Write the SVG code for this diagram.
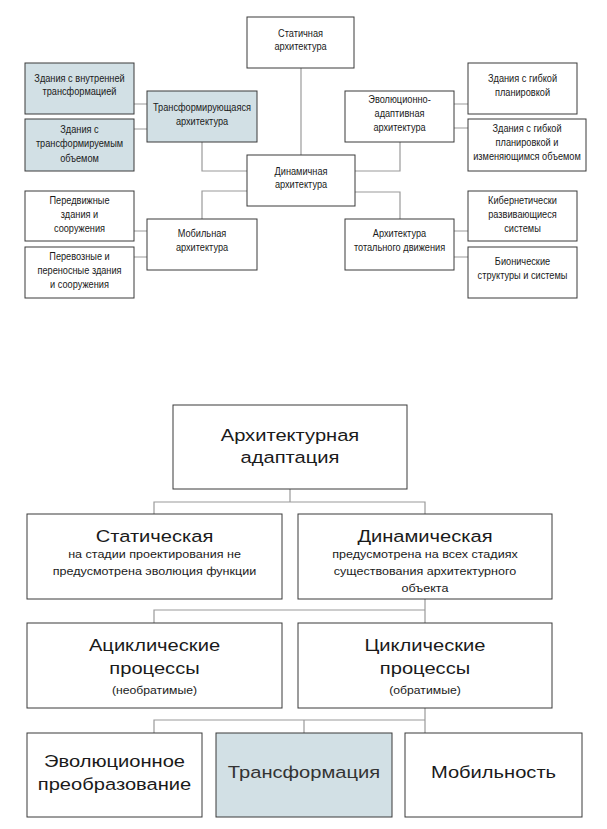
<svg xmlns="http://www.w3.org/2000/svg" width="607" height="829" viewBox="0 0 607 829">
<style>
.b{fill:#fff;stroke:#3a3a3a;stroke-width:1}
.hl{fill:#d2e0e5}
.c{fill:none;stroke:#9a9a9a;stroke-width:1.2}
text{font-family:"Liberation Sans",Arial,sans-serif;fill:#1a1a1a;text-anchor:middle}
.s text{font-size:11.5px}
.L{font-size:16.5px}
.m{font-size:10.3px}
.p{font-size:10px}
</style>
<rect width="607" height="829" fill="#fff"/>
<g id="connectors">
<path class="c" d="M301,68V155"/>
<path class="c" d="M202,142V171H247"/>
<path class="c" d="M202,219V191H247"/>
<path class="c" d="M355,171H400V142"/>
<path class="c" d="M355,192H400V219"/>
<path class="c" d="M134,104H147M134,129H147M134,231H147M134,257H147"/>
<path class="c" d="M454,104H468M454,128H468M454,231H468M454,257H468"/>
<path class="c" d="M290,489V502M154,514V502H425V514"/>
<path class="c" d="M425,599V610H154V623M425,610V623"/>
<path class="c" d="M425,708V733M425,720H154V733M304,720V733"/>
</g>
<g id="static-arch" class="s"><rect class="b" x="247" y="17" width="107" height="51"/><g transform="translate(300.5,0) scale(0.8,1)"><text x="0" y="37">Статичная</text><text x="0" y="50.5">архитектура</text></g></g>
<g id="internal-transf" class="s"><rect class="b hl" x="25" y="63" width="109" height="51"/><g transform="translate(79.5,0) scale(0.8,1)"><text x="0" y="82.5">Здания с внутренней</text><text x="0" y="95.5">трансформацией</text></g></g>
<g id="transf-volume" class="s"><rect class="b hl" x="25" y="119" width="109" height="52"/><g transform="translate(79.5,0) scale(0.8,1)"><text x="0" y="133">Здания с</text><text x="0" y="147.5">трансформируемым</text><text x="0" y="162">объемом</text></g></g>
<g id="transf-arch" class="s"><rect class="b hl" x="147" y="91" width="110" height="51"/><g transform="translate(202,0) scale(0.8,1)"><text x="0" y="111.5">Трансформирующаяся</text><text x="0" y="125">архитектура</text></g></g>
<g id="dynamic-arch" class="s"><rect class="b" x="247" y="155" width="108" height="51"/><g transform="translate(301,0) scale(0.8,1)"><text x="0" y="175">Динамичная</text><text x="0" y="188.5">архитектура</text></g></g>
<g id="movable" class="s"><rect class="b" x="25" y="191" width="109" height="50"/><g transform="translate(79.5,0) scale(0.8,1)"><text x="0" y="204">Передвижные</text><text x="0" y="218">здания и</text><text x="0" y="232">сооружения</text></g></g>
<g id="transportable" class="s"><rect class="b" x="25" y="247" width="109" height="51"/><g transform="translate(79.5,0) scale(0.8,1)"><text x="0" y="260">Перевозные и</text><text x="0" y="274">переносные здания</text><text x="0" y="288">и сооружения</text></g></g>
<g id="mobile-arch" class="s"><rect class="b" x="147" y="219" width="110" height="51"/><g transform="translate(202,0) scale(0.8,1)"><text x="0" y="237.5">Мобильная</text><text x="0" y="251.5">архитектура</text></g></g>
<g id="evol-arch" class="s"><rect class="b" x="345" y="91" width="109" height="51"/><g transform="translate(399.5,0) scale(0.8,1)"><text x="0" y="103.5">Эволюционно-</text><text x="0" y="117.5">адаптивная</text><text x="0" y="131.5">архитектура</text></g></g>
<g id="flex-plan" class="s"><rect class="b" x="468" y="63" width="109" height="51"/><g transform="translate(522.5,0) scale(0.8,1)"><text x="0" y="82">Здания с гибкой</text><text x="0" y="96">планировкой</text></g></g>
<g id="flex-plan-volume" class="s"><rect class="b" x="468" y="119" width="118" height="52"/><g transform="translate(527,0) scale(0.8,1)"><text x="0" y="132">Здания с гибкой</text><text x="0" y="146">планировкой и</text><text x="0" y="160">изменяющимся объемом</text></g></g>
<g id="total-arch" class="s"><rect class="b" x="345" y="219" width="109" height="51"/><g transform="translate(399.5,0) scale(0.8,1)"><text x="0" y="237.5">Архитектура</text><text x="0" y="251.5">тотального движения</text></g></g>
<g id="cyber" class="s"><rect class="b" x="468" y="191" width="109" height="50"/><g transform="translate(522.5,0) scale(0.8,1)"><text x="0" y="204">Кибернетически</text><text x="0" y="218">развивающиеся</text><text x="0" y="232">системы</text></g></g>
<g id="bionic" class="s"><rect class="b" x="468" y="247" width="109" height="51"/><g transform="translate(522.5,0) scale(0.8,1)"><text x="0" y="265.5">Бионические</text><text x="0" y="279.5">структуры и системы</text></g></g>

<g id="arch-adapt"><rect class="b" x="173" y="405" width="234" height="84"/><g transform="translate(290,0) scale(1.22,1)"><text class="L" x="0" y="441">Архитектурная</text><text class="L" x="0" y="463.5">адаптация</text></g></g>
<g id="static"><rect class="b" x="27" y="514" width="255" height="85"/><g transform="translate(154.5,0) scale(1.22,1)"><text class="L" x="0" y="542">Статическая</text><text class="m" x="0" y="558.5">на стадии проектирования не</text><text class="m" x="0" y="575.5">предусмотрена эволюция функции</text></g></g>
<g id="dynamic"><rect class="b" x="298" y="514" width="254" height="85"/><g transform="translate(425,0) scale(1.22,1)"><text class="L" x="0" y="542">Динамическая</text><text class="m" x="0" y="558.5">предусмотрена на всех стадиях</text><text class="m" x="0" y="575.5">существования архитектурного</text><text class="m" x="0" y="592.5">объекта</text></g></g>
<g id="acyclic"><rect class="b" x="27" y="623" width="255" height="85"/><g transform="translate(154.5,0) scale(1.22,1)"><text class="L" x="0" y="651">Ациклические</text><text class="L" x="0" y="674">процессы</text><text class="p" x="0" y="694">(необратимые)</text></g></g>
<g id="cyclic"><rect class="b" x="298" y="623" width="254" height="85"/><g transform="translate(425,0) scale(1.22,1)"><text class="L" x="0" y="651">Циклические</text><text class="L" x="0" y="674">процессы</text><text class="p" x="0" y="694">(обратимые)</text></g></g>
<g id="evolution"><rect class="b" x="27" y="733" width="175" height="84"/><g transform="translate(114.5,0) scale(1.22,1)"><text class="L" x="0" y="767">Эволюционное</text><text class="L" x="0" y="790">преобразование</text></g></g>
<g id="transformation"><rect class="b hl" x="216" y="733" width="176" height="84"/><g transform="translate(304,0) scale(1.22,1)"><text class="L" x="0" y="778" style="fill:#333">Трансформация</text></g></g>
<g id="mobility"><rect class="b" x="405" y="733" width="177" height="84"/><g transform="translate(493.5,0) scale(1.22,1)"><text class="L" x="0" y="778">Мобильность</text></g></g>
</svg>
